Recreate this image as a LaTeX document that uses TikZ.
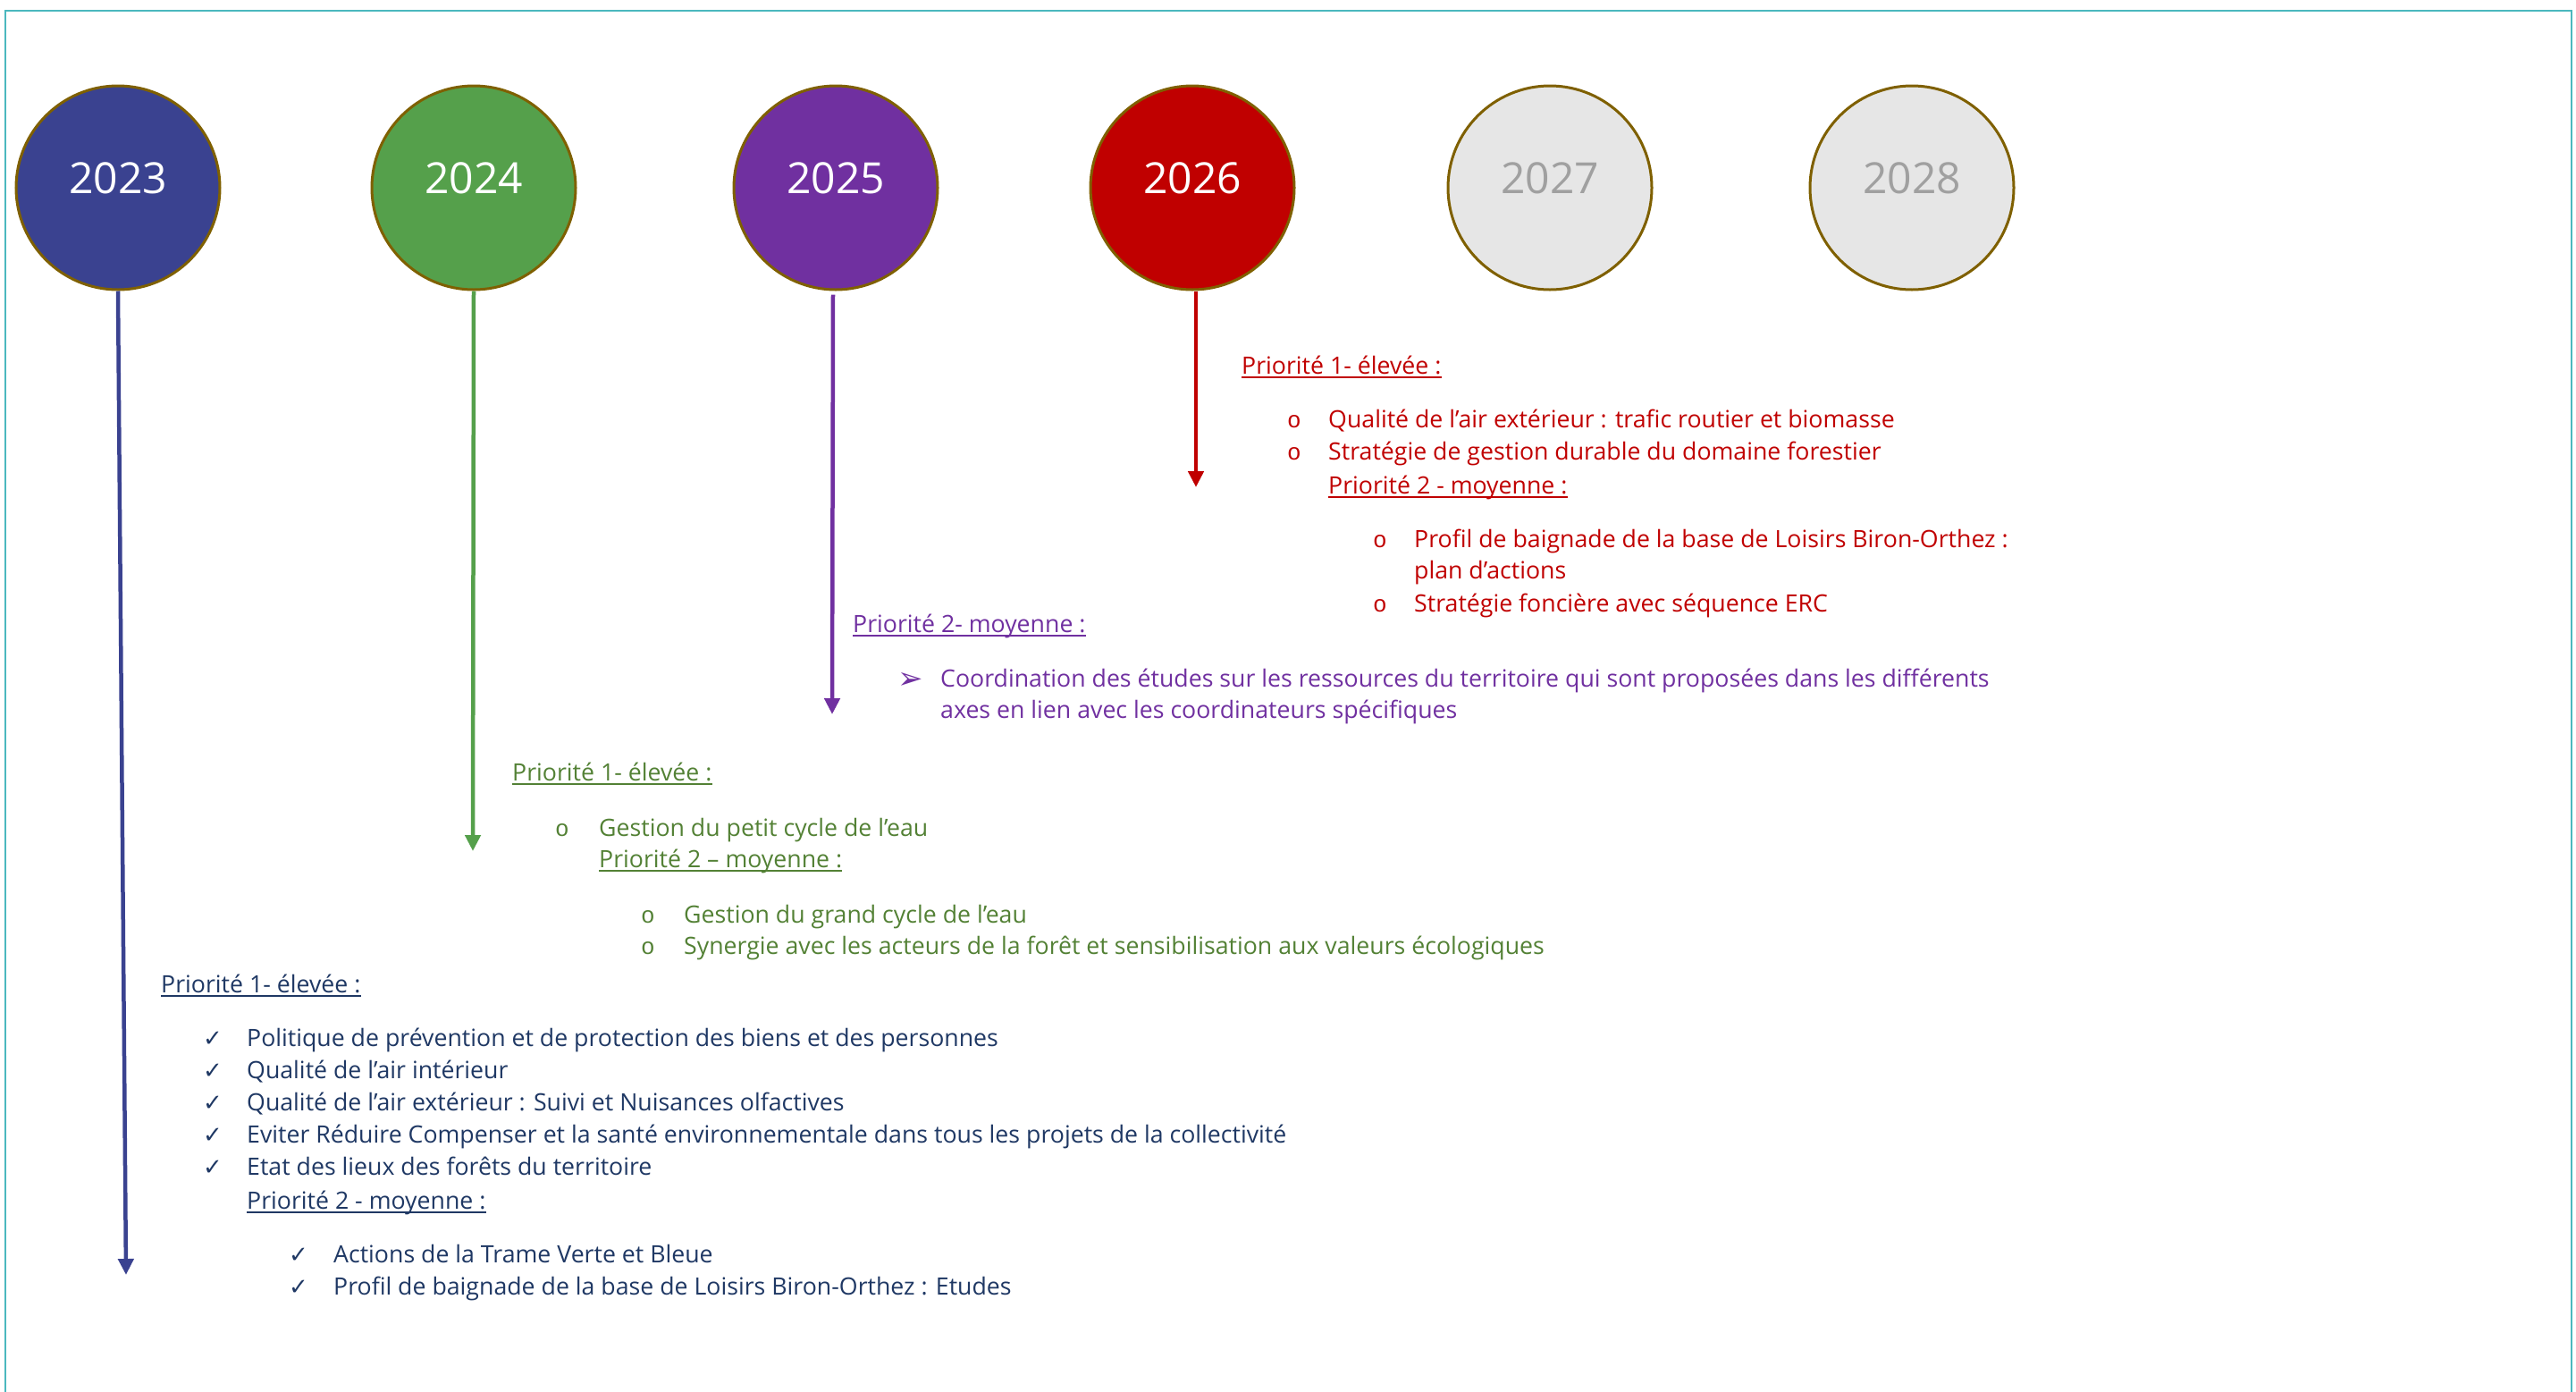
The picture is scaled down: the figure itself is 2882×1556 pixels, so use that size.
\documentclass[tikz,border=0pt]{standalone}
\usepackage{fontspec}
\setmainfont{Open Sans}
\newfontfamily\djv{DejaVu Sans}
\newfontfamily\mono{Liberation Mono}
\usetikzlibrary{arrows.meta}
\definecolor{frame}{HTML}{4BB8BE}
\definecolor{ring}{HTML}{7F6000}
\definecolor{navyF}{HTML}{3A4290}
\definecolor{navyT}{HTML}{1F3864}
\definecolor{greenF}{HTML}{55A04B}
\definecolor{greenT}{HTML}{538135}
\definecolor{purp}{HTML}{7030A0}
\definecolor{redc}{HTML}{C00000}
\definecolor{greyF}{HTML}{E6E6E6}
\definecolor{greyT}{HTML}{A0A0A0}
\tikzset{
  yearc/.style={circle, draw=ring, line width=3pt, minimum size=228pt, inner sep=0pt},
  yeart/.style={anchor=base, inner sep=0pt, font=\fontsize{48}{56}\selectfont},
  txt/.style={anchor=base west, inner sep=0pt, font=\fontsize{26.7}{32}\selectfont},
  obul/.style={anchor=base west, inner sep=0pt, font=\mono\fontsize{26}{30}\selectfont},
  cbul/.style={anchor=base west, inner sep=0pt, font=\djv\fontsize{26}{30}\selectfont},
  abul/.style={anchor=base west, inner sep=0pt, font=\djv\fontsize{34}{38}\selectfont},
  tline/.style={line width=4.5pt, -{Triangle[length=18pt,width=17pt]}},
  ul/.style={line width=2pt}
}
\begin{document}
\begin{tikzpicture}[x=1pt,y=-1pt]
\path[use as bounding box] (0,0) rectangle (2882,1556);
\draw[frame, line width=2pt] (6,1560) -- (6,12) -- (2877,12) -- (2877,1560);

% year circles
\node[yearc, fill=navyF]  (c23) at (132,210) {};
\node[yearc, fill=greenF] (c24) at (530,210) {};
\node[yearc, fill=purp]   (c25) at (935,210) {};
\node[yearc, fill=redc]   (c26) at (1334,210) {};
\node[yearc, fill=greyF]  (c27) at (1734,210) {};
\node[yearc, fill=greyF]  (c28) at (2139,210) {};
\node[yeart, text=white] (t23) at (132,216) {2023};
\node[yeart, text=white] (t24) at (530,216) {2024};
\node[yeart, text=white] (t25) at (935,216) {2025};
\node[yeart, text=white] (t26) at (1334,216) {2026};
\node[yeart, text=greyT] (t27) at (1734,216) {2027};
\node[yeart, text=greyT] (t28) at (2139,216) {2028};

% arrow ends
\coordinate (e23) at (141,1426);
\coordinate (e24) at (529,952);
\coordinate (e25) at (931,799);
\coordinate (e26) at (1338,545);
\draw[tline, navyF] (c23.south) -- (e23);
\draw[tline, greenF] (c24.south) -- (e24);
\draw[tline, purp, shorten <=4pt] ([xshift=-3pt]c25.south) -- (e25);
\draw[tline, redc] ([xshift=4pt]c26.south) -- (e26);

% ---- 2026 block ----
\begin{scope}[text=redc]
\node[txt] (h26a) at (1389,418) {Priorité 1- élevée :};
\node[obul] (b26a) at (1440,478) {o};
\node[txt] (i26a) at (1486,478) {Qualité de l’air extérieur : trafic routier et biomasse};
\node[obul] (b26b) at (1440,514) {o};
\node[txt] (i26b) at (1486,514) {Stratégie de gestion durable du domaine forestier};
\node[txt] (h26b) at (1486,552) {Priorité 2 - moyenne :};
\node[obul] (b26c) at (1536,612) {o};
\node[txt] (i26c) at (1582,612) {Profil de baignade de la base de Loisirs Biron-Orthez :};
\node[txt] (i26d) at (1582,647) {plan d’actions};
\node[obul] (b26e) at (1536,684) {o};
\node[txt] (i26e) at (1582,684) {Stratégie foncière avec séquence ERC};
\end{scope}
\draw[ul, redc] ([yshift=-4pt]h26a.base west) -- ([yshift=-4pt]h26a.base east);
\draw[ul, redc] ([yshift=-4pt]h26b.base west) -- ([yshift=-4pt]h26b.base east);

% ---- 2025 block ----
\begin{scope}[text=purp]
\node[txt] (h25) at (954,707) {Priorité 2- moyenne :};
\node[abul] (b25) at (1004,770) {➢};
\node[txt] (i25a) at (1052,768) {Coordination des études sur les ressources du territoire qui sont proposées dans les différents};
\node[txt] (i25b) at (1052,803) {axes en lien avec les coordinateurs spécifiques};
\end{scope}
\draw[ul, purp] ([yshift=-4pt]h25.base west) -- ([yshift=-4pt]h25.base east);

% ---- 2024 block ----
\begin{scope}[text=greenT]
\node[txt] (h24a) at (573,873) {Priorité 1- élevée :};
\node[obul] (b24a) at (621,935) {o};
\node[txt] (i24a) at (670,935) {Gestion du petit cycle de l’eau};
\node[txt] (h24b) at (670,970) {Priorité 2 – moyenne :};
\node[obul] (b24b) at (717,1032) {o};
\node[txt] (i24b) at (765,1032) {Gestion du grand cycle de l’eau};
\node[obul] (b24c) at (717,1067) {o};
\node[txt] (i24c) at (765,1067) {Synergie avec les acteurs de la forêt et sensibilisation aux valeurs écologiques};
\end{scope}
\draw[ul, greenT] ([yshift=-4pt]h24a.base west) -- ([yshift=-4pt]h24a.base east);
\draw[ul, greenT] ([yshift=-4pt]h24b.base west) -- ([yshift=-4pt]h24b.base east);

% ---- 2023 block ----
\begin{scope}[text=navyT]
\node[txt] (h23a) at (180,1110) {Priorité 1- élevée :};
\node[cbul] (b23a) at (227,1170) {✓};
\node[txt] (i23a) at (276,1170) {Politique de prévention et de protection des biens et des personnes};
\node[cbul] (b23b) at (227,1206) {✓};
\node[txt] (i23b) at (276,1206) {Qualité de l’air intérieur};
\node[cbul] (b23c) at (227,1242) {✓};
\node[txt] (i23c) at (276,1242) {Qualité de l’air extérieur : Suivi et Nuisances olfactives};
\node[cbul] (b23d) at (227,1278) {✓};
\node[txt] (i23d) at (276,1278) {Eviter Réduire Compenser et la santé environnementale dans tous les projets de la collectivité};
\node[cbul] (b23e) at (227,1314) {✓};
\node[txt] (i23e) at (276,1314) {Etat des lieux des forêts du territoire};
\node[txt] (h23b) at (276,1352) {Priorité 2 - moyenne :};
\node[cbul] (b23f) at (323,1412) {✓};
\node[txt] (i23f) at (373,1412) {Actions de la Trame Verte et Bleue};
\node[cbul] (b23g) at (323,1448) {✓};
\node[txt] (i23g) at (373,1448) {Profil de baignade de la base de Loisirs Biron-Orthez : Etudes};
\end{scope}
\draw[ul, navyT] ([yshift=-4pt]h23a.base west) -- ([yshift=-4pt]h23a.base east);
\draw[ul, navyT] ([yshift=-4pt]h23b.base west) -- ([yshift=-4pt]h23b.base east);
\end{tikzpicture}
\end{document}
